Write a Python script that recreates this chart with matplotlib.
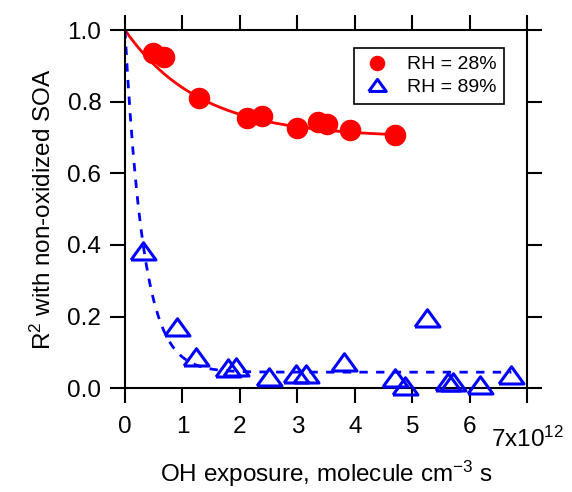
import numpy as np
import matplotlib.pyplot as plt

plt.rcParams['font.family'] = 'Liberation Sans'
plt.rcParams['mathtext.fontset'] = 'custom'
plt.rcParams['mathtext.rm'] = 'Liberation Sans'
plt.rcParams['mathtext.it'] = 'Liberation Sans'

# OH exposure in units of 1e12 molecule cm-3 s
x_rh28 = [0.49, 0.67, 1.29, 2.12, 2.38, 2.99, 3.36, 3.52, 3.92, 4.70]
r2_rh28 = [0.936, 0.926, 0.81, 0.754, 0.759, 0.726, 0.743, 0.738, 0.721, 0.707]

x_rh89 = [0.31, 0.90, 1.23, 1.80, 1.93, 2.50, 2.97, 3.15, 3.81, 4.70,
          4.87, 5.25, 5.62, 5.70, 6.17, 6.72]
r2_rh89 = [0.384, 0.172, 0.087, 0.056, 0.060, 0.032, 0.040, 0.040, 0.074, 0.028,
           0.007, 0.195, 0.018, 0.018, 0.009, 0.037]

# exponential fit coefficients: y = y0 + (1 - y0) * exp(-x / tau)
fit28_y0, fit28_tau, fit28_xmax = 0.70, 1.3, 4.70
fit89_y0, fit89_tau, fit89_xmax = 0.045, 0.32, 6.72

xticks = [0, 1, 2, 3, 4, 5, 6]
yticks = [0.0, 0.2, 0.4, 0.6, 0.8, 1.0]

fs = 17.5
# wide, flat open triangle
tri = [(-1, -0.68), (1, -0.68), (0, 0.7), (-1, -0.68)]

fig = plt.figure(figsize=(5.72, 4.92), dpi=100)
ax = fig.add_axes([0.2185, 0.2108, 0.7037, 0.7282])

xf = np.linspace(0, fit28_xmax, 200)
ax.plot(xf, fit28_y0 + (1 - fit28_y0) * np.exp(-xf / fit28_tau), color='red', lw=2, zorder=2)
xf = np.linspace(0, fit89_xmax, 300)
ax.plot(xf, fit89_y0 + (1 - fit89_y0) * np.exp(-xf / fit89_tau), color='blue', lw=2,
        ls=(0, (3, 3)), zorder=2)

ax.plot(x_rh28, r2_rh28, 'o', color='red', ms=14.5, mec='red', zorder=3,
        clip_on=False, label='RH = 28%')
ax.plot(x_rh89, r2_rh89, marker=tri, ls='none', color='blue', ms=18, mfc='none', mew=2.2,
        zorder=3, clip_on=False, label='RH = 89%')

ax.set_xlim(0, 7)
ax.set_ylim(0, 1.0)
ax.set_xticks(xticks)
ax.set_yticks(yticks)
ax.set_xticklabels([str(t) for t in xticks])
ax.set_yticklabels(['%.1f' % t for t in yticks])
ax.tick_params(direction='out', length=11, width=1.5, labelsize=fs,
               top=True, right=True)
ax.tick_params(axis='x', pad=9)
ax.tick_params(axis='y', pad=6)
ax.set_xticks([7], minor=True)
ax.tick_params(which='minor', direction='out', length=11, width=1.5, top=True, right=True)
for s in ax.spines.values():
    s.set_linewidth(1.5)

ax.text(7, -0.143, '7x10$^{12}$', transform=ax.transData, ha='center', va='center',
        fontsize=fs, clip_on=False)

ax.set_xlabel('OH exposure, molecule cm$^{-3}$ s', fontsize=fs, labelpad=15)
ax.set_ylabel('R$^2$ with non-oxidized SOA', fontsize=fs, labelpad=8)

leg = ax.legend(loc='upper right', bbox_to_anchor=(0.9416, 0.95), borderaxespad=0,
                fontsize=14, fancybox=False, edgecolor='black', framealpha=1,
                markerscale=0.7, handlelength=1.6, handletextpad=0.7, borderpad=0.4,
                labelspacing=0.25)
leg.get_frame().set_linewidth(1.2)

fig.savefig('out.png', dpi=100)
